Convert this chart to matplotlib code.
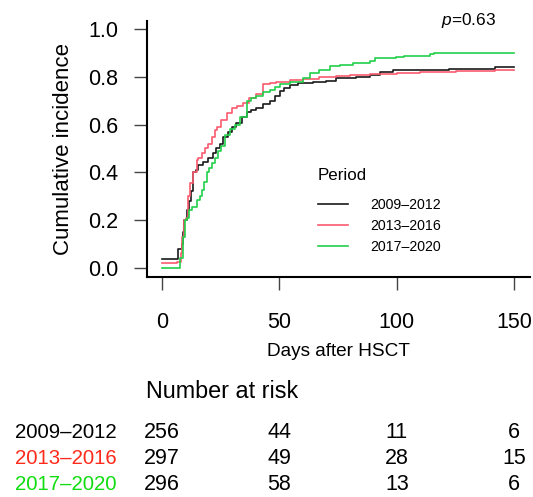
import numpy as np
import matplotlib
matplotlib.use("Agg")
import matplotlib.pyplot as plt
from matplotlib.transforms import blended_transform_factory

plt.rcParams['font.family'] = ['Liberation Sans', 'DejaVu Sans']
plt.rcParams['mathtext.fontset'] = 'custom'
plt.rcParams['mathtext.rm'] = 'Liberation Sans'
plt.rcParams['mathtext.it'] = 'Liberation Sans:italic'

# cumulative incidence step curves
days_0912 = [0, 7, 8.4, 9, 9.5, 10.5, 11.6, 12.3, 13.3, 14.3,
             15.4, 17.5, 19.5, 21.8, 23, 24.6, 26, 28, 30, 31.7,
             34, 36, 38, 40.2, 43, 45.9, 48, 50.1, 52, 54.4,
             58, 64.3, 70, 74, 82.7, 88.4, 93, 98.3, 122, 142, 150]
ci_0912 = [0.035, 0.077, 0.10, 0.15, 0.20, 0.24, 0.28, 0.32, 0.40, 0.41,
           0.43, 0.445, 0.46, 0.48, 0.50, 0.52, 0.55, 0.57, 0.59, 0.605,
           0.63, 0.655, 0.66, 0.67, 0.685, 0.70, 0.72, 0.74, 0.755, 0.765,
           0.775, 0.78, 0.785, 0.795, 0.80, 0.81, 0.82, 0.83, 0.832, 0.84, 0.84]

days_1316 = [0, 6.2, 8, 8.6, 9.2, 10, 11, 11.9, 13.3, 14.7,
             15.2, 17, 18.3, 19.5, 21.1, 22.5, 23.5, 25, 27.5, 30,
             32, 34.6, 37, 40.2, 43, 46, 48.7, 54.4, 60, 67,
             74, 80, 88.4, 100, 110, 125, 142, 150]
ci_1316 = [0.018, 0.025, 0.06, 0.13, 0.20, 0.21, 0.30, 0.355, 0.40, 0.45,
           0.46, 0.48, 0.50, 0.52, 0.55, 0.577, 0.59, 0.62, 0.65, 0.67,
           0.68, 0.69, 0.71, 0.73, 0.77, 0.776, 0.78, 0.787, 0.79, 0.80,
           0.805, 0.81, 0.812, 0.816, 0.82, 0.823, 0.828, 0.828]

days_1720 = [0, 7.6, 9, 9.8, 10.5, 11.5, 12.6, 14.7, 16, 16.9,
             18, 19, 20, 21.1, 22.5, 23.9, 25, 26.8, 28.9, 31,
             33.1, 36, 38, 40.2, 43, 45.9, 48, 50.1, 54.4, 60,
             63, 67, 71.4, 75.6, 81.3, 88.4, 90.5, 99.7, 103, 114,
             116, 134, 150]
ci_1720 = [0.0, 0.04, 0.13, 0.2, 0.21, 0.24, 0.256, 0.284, 0.30, 0.326,
           0.36, 0.40, 0.42, 0.44, 0.46, 0.49, 0.51, 0.557, 0.58, 0.60,
           0.63, 0.70, 0.71, 0.72, 0.735, 0.745, 0.76, 0.77, 0.78, 0.795,
           0.815, 0.83, 0.846, 0.85, 0.86, 0.865, 0.88, 0.885, 0.89, 0.896,
           0.90, 0.902, 0.902]

periods = ['2009\u20132012', '2013\u20132016', '2017\u20132020']
line_cols = ['#1a1a1a', '#fa5a6e', '#22d04a']
text_cols = ['#000000', '#ff2a1a', '#11dd11']

risk_times = [0, 50, 100, 150]
risk_0912 = [256, 44, 11, 6]
risk_1316 = [297, 49, 28, 15]
risk_1720 = [296, 58, 13, 6]

fig = plt.figure(figsize=(5.33, 4.97), dpi=100)
ax = fig.add_axes([147/533, 1-277/497, 383/533, 256.3/497])

curves = [(days_0912, ci_0912), (days_1316, ci_1316), (days_1720, ci_1720)]
for (d, c), lab, col in zip(curves, periods, line_cols):
    ax.plot(d, c, drawstyle='steps-post', color=col, lw=1.2, label=lab)

ax.set_xlim(-6.4, 156.7)
ax.set_ylim(-0.039, 1.036)
for s in ['top', 'right']:
    ax.spines[s].set_visible(False)
for s in ['left', 'bottom']:
    ax.spines[s].set_linewidth(1.5)
ax.set_xticks(risk_times)
ax.set_yticks([0, 0.2, 0.4, 0.6, 0.8, 1.0])
ax.set_yticklabels(['0.0', '0.2', '0.4', '0.6', '0.8', '1.0'])
ax.tick_params(axis='y', direction='out', length=9.4, width=1.0, color='#444444',
               labelsize=15.5, pad=11.5)
ax.tick_params(axis='x', direction='out', length=9.4, width=1.0, color='#444444',
               labelsize=15.5, pad=16)
ax.set_ylabel('Cumulative incidence', fontsize=16, labelpad=10)
ax.set_xlabel('Days after HSCT', fontsize=13.7, labelpad=7)

ax.text(0.911, 1.0, '$p$=0.63', transform=ax.transAxes, fontsize=12.4,
        ha='right', va='center')

leg = ax.legend(loc='upper left', bbox_to_anchor=(318/533, 1-168/497),
                bbox_transform=fig.transFigure, frameon=False, title='Period',
                title_fontsize=12.2, fontsize=10.2, alignment='left',
                handlelength=2.13, handletextpad=1.56, borderpad=0,
                borderaxespad=0, labelspacing=0.5)
leg._legend_box.sep = 11  # wider gap between title and entries

# number at risk table
fig.text(146.5/533, 1-392/497, 'Number at risk', fontsize=16.8, ha='left', va='center')
trans = blended_transform_factory(ax.transData, fig.transFigure)
row_y = [432, 459, 485]
for lab, col, vals, yy in zip(periods, text_cols, [risk_0912, risk_1316, risk_1720], row_y):
    fig.text(15/533, 1-yy/497, lab, color=col, fontsize=14.7, ha='left', va='center')
    for t, v in zip(risk_times, vals):
        ax.text(t, 1-yy/497, str(v), transform=trans, fontsize=15.5,
                ha='center', va='center', clip_on=False)

fig.savefig('out.png', dpi=100)
